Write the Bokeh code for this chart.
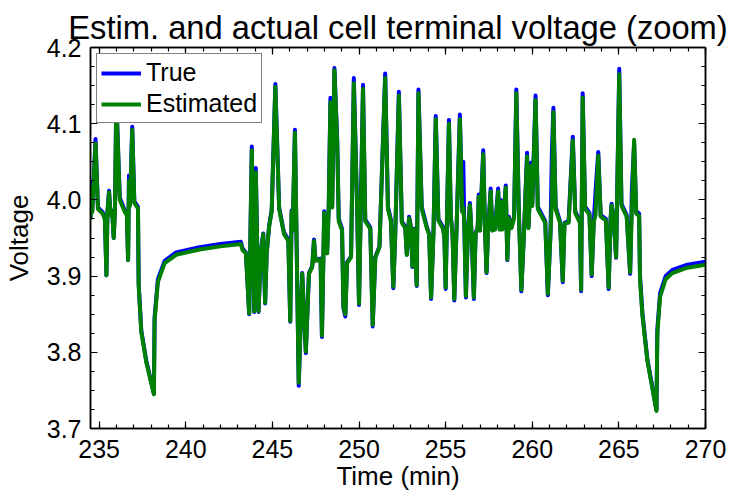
from bokeh.plotting import figure
from bokeh.models import LinearAxis, FixedTicker, Range1d
from bokeh.embed import file_html
from bokeh.resources import INLINE

# ---------------- data ----------------
time_min = [
    234.50, 234.53, 234.60, 234.79, 234.93, 235.20, 235.33, 235.42, 235.48, 235.57,
    235.66, 235.75, 235.84, 235.91, 235.99, 236.19, 236.48, 236.60, 236.67, 236.72,
    236.78, 236.91, 237.03, 237.24, 237.28, 237.43, 237.72, 238.16, 238.20, 238.39,
    238.78, 239.44, 240.79, 242.00, 243.18, 243.28, 243.47, 243.66, 243.81, 243.95,
    244.04, 244.20, 244.33, 244.47, 244.58, 244.67, 244.81, 244.96, 245.17, 245.39,
    245.67, 245.92, 246.03, 246.11, 246.17, 246.30, 246.52, 246.72, 246.93, 247.11,
    247.30, 247.40, 247.49, 247.78, 247.86, 247.99, 248.16, 248.25, 248.35, 248.45,
    248.58, 248.74, 248.83, 249.02, 249.10, 249.21, 249.31, 249.54, 249.70, 249.89,
    250.00, 250.23, 250.36, 250.65, 250.79, 250.94, 251.18, 251.51, 251.67, 251.84,
    251.98, 252.09, 252.30, 252.47, 252.67, 252.76, 252.89, 253.00, 253.08, 253.18,
    253.33, 253.43, 253.62, 253.91, 254.05, 254.16, 254.30, 254.43, 254.58, 254.85,
    254.93, 255.00, 255.08, 255.19, 255.30, 255.40, 255.50, 255.65, 255.82, 255.96,
    256.02, 256.07, 256.17, 256.28, 256.40, 256.50, 256.63, 256.73, 256.85, 256.91,
    256.98, 257.17, 257.27, 257.36, 257.45, 257.60, 257.70, 257.85, 258.03, 258.12,
    258.18, 258.28, 258.47, 258.56, 258.65, 258.80, 258.95, 259.08, 259.22, 259.37,
    259.52, 259.70, 259.78, 259.94, 260.00, 260.19, 260.32, 260.75, 260.90, 261.05,
    261.13, 261.22, 261.35, 261.60, 261.76, 261.86, 262.10, 262.34, 262.48, 262.75,
    262.82, 262.91, 263.05, 263.30, 263.43, 263.55, 263.65, 263.81, 263.95, 264.25,
    264.41, 264.52, 264.58, 264.70, 264.84, 265.02, 265.15, 265.45, 265.65, 265.75,
    265.88, 266.00, 266.17, 266.22, 266.36, 266.65, 267.17, 267.22, 267.38, 267.70,
    268.09, 268.95, 270.00,
]

v_true = [
    3.976, 4.023, 3.986, 4.080, 3.990, 3.984, 3.976, 3.901, 3.985, 4.012,
    3.981, 3.986, 3.950, 3.986, 4.135, 4.003, 3.986, 3.982, 3.921, 4.032,
    3.995, 4.096, 3.998, 3.991, 3.890, 3.829, 3.789, 3.746, 3.846, 3.896,
    3.920, 3.931, 3.938, 3.942, 3.945, 3.936, 3.931, 3.850, 4.070, 3.853,
    4.042, 3.853, 3.930, 3.956, 3.864, 3.930, 3.966, 3.987, 4.152, 3.990,
    3.957, 3.948, 3.840, 3.986, 3.960, 4.092, 3.756, 3.904, 3.799, 3.904,
    3.913, 3.948, 3.921, 3.923, 3.820, 3.985, 3.930, 3.990, 4.134, 3.992,
    4.173, 4.080, 3.975, 3.962, 3.858, 3.847, 3.918, 3.926, 4.160, 3.991,
    3.862, 4.151, 3.974, 3.964, 3.834, 3.925, 3.939, 4.166, 3.991, 3.974,
    3.884, 3.955, 4.142, 3.972, 3.965, 3.928, 3.978, 3.964, 3.912, 3.962,
    3.887, 4.145, 3.991, 3.965, 3.955, 3.870, 3.960, 4.110, 3.975, 3.964,
    3.950, 3.883, 3.980, 4.105, 3.978, 3.955, 3.868, 3.978, 4.112, 3.986,
    4.050, 3.975, 3.872, 3.955, 3.996, 3.955, 3.870, 3.956, 3.964, 4.007,
    3.960, 4.065, 3.964, 3.904, 3.960, 4.015, 3.960, 3.962, 4.015, 3.962,
    4.000, 3.962, 4.019, 3.921, 3.978, 3.964, 3.978, 4.145, 3.991, 3.880,
    3.956, 4.062, 3.964, 4.049, 3.995, 4.137, 3.991, 3.972, 3.875, 3.955,
    4.060, 4.121, 3.991, 3.972, 3.892, 3.970, 3.972, 4.083, 3.985, 3.972,
    3.880, 4.140, 3.991, 3.983, 3.900, 3.972, 4.010, 4.063, 3.980, 3.975,
    3.883, 3.975, 3.995, 3.975, 3.924, 4.172, 3.995, 3.980, 3.903, 4.013,
    4.075, 3.985, 3.982, 3.900, 3.851, 3.790, 3.724, 3.830, 3.878, 3.900,
    3.908, 3.915, 3.919,
]

v_est = [
    3.974, 4.015, 3.984, 4.074, 3.988, 3.982, 3.975, 3.901, 3.984, 4.010,
    3.980, 3.985, 3.950, 3.985, 4.130, 4.000, 3.984, 3.980, 3.921, 4.025,
    3.992, 4.092, 3.996, 3.989, 3.888, 3.827, 3.787, 3.745, 3.842, 3.892,
    3.917, 3.928, 3.935, 3.939, 3.942, 3.934, 3.930, 3.851, 4.065, 3.854,
    4.036, 3.854, 3.930, 3.955, 3.865, 3.930, 3.965, 3.985, 4.148, 3.988,
    3.955, 3.946, 3.841, 3.984, 3.960, 4.088, 3.760, 3.903, 3.801, 3.903,
    3.912, 3.946, 3.920, 3.922, 3.822, 3.983, 3.930, 3.988, 4.128, 3.990,
    4.170, 4.075, 3.972, 3.960, 3.860, 3.850, 3.917, 3.925, 4.153, 3.988,
    3.864, 4.146, 3.972, 3.962, 3.836, 3.924, 3.938, 4.160, 3.988, 3.972,
    3.886, 3.954, 4.137, 3.970, 3.963, 3.928, 3.976, 3.963, 3.913, 3.961,
    3.888, 4.140, 3.988, 3.963, 3.954, 3.872, 3.958, 4.106, 3.973, 3.962,
    3.950, 3.885, 3.978, 4.100, 3.976, 3.954, 3.870, 3.976, 4.106, 3.984,
    3.990, 3.974, 3.874, 3.954, 3.993, 3.954, 3.872, 3.955, 3.963, 4.004,
    3.960, 4.060, 3.963, 3.905, 3.960, 4.011, 3.960, 3.961, 4.011, 3.961,
    3.998, 3.961, 4.016, 3.922, 3.976, 3.963, 3.976, 4.140, 3.988, 3.882,
    3.955, 4.057, 3.963, 4.045, 3.992, 4.131, 3.988, 3.970, 3.877, 3.954,
    4.000, 4.115, 3.988, 3.970, 3.894, 3.969, 3.970, 4.078, 3.983, 3.970,
    3.882, 4.134, 3.988, 3.981, 3.902, 3.971, 3.980, 4.058, 3.978, 3.973,
    3.885, 3.974, 3.993, 3.974, 3.925, 4.165, 3.992, 3.978, 3.905, 3.990,
    4.079, 3.982, 3.979, 3.895, 3.848, 3.788, 3.723, 3.825, 3.873, 3.896,
    3.904, 3.911, 3.915,
]

x_ticks = [235, 240, 245, 250, 255, 260, 265, 270]
x_tick_labels = ["235", "240", "245", "250", "255", "260", "265", "270"]
x_minor_ticks = [235, 236, 237, 238, 239, 240, 241, 242, 243, 244, 245, 246, 247,
                 248, 249, 250, 251, 252, 253, 254, 255, 256, 257, 258, 259, 260,
                 261, 262, 263, 264, 265, 266, 267, 268, 269, 270]
y_ticks = [3.7, 3.8, 3.9, 4.0, 4.1, 4.2]
y_tick_labels = ["3.7", "3.8", "3.9", "4.0", "4.1", "4.2"]
y_minor_ticks = [3.7, 3.725, 3.75, 3.775, 3.8, 3.825, 3.85, 3.875, 3.9, 3.925,
                 3.95, 3.975, 4.0, 4.025, 4.05, 4.075, 4.1, 4.125, 4.15, 4.175, 4.2]

FONT = "Liberation Sans"

p = figure(
    width=742, height=493,
    x_range=Range1d(234.5, 270.0), y_range=Range1d(3.7, 4.2),
    output_backend="svg", toolbar_location=None,
    min_border_left=87, min_border_right=37, min_border_top=47, min_border_bottom=65,
    x_axis_label="Time (min)", y_axis_label="Voltage",
    title="Estim. and actual cell terminal voltage (zoom)",
)

p.title.text_font = FONT
p.title.text_font_size = "32.7px"
p.title.text_font_style = "normal"
p.title.align = "center"
p.title.text_color = "black"
p.title.standoff = 4
p.title.offset = 0

p.xgrid.visible = False
p.ygrid.visible = False
p.outline_line_color = "black"
p.outline_line_width = 1.5
p.background_fill_color = "white"
p.border_fill_color = "white"

xt = FixedTicker(ticks=x_ticks, minor_ticks=x_minor_ticks)
yt = FixedTicker(ticks=y_ticks, minor_ticks=y_minor_ticks)


def style_axis(ax):
    ax.axis_line_color = "black"
    ax.axis_line_width = 1.5
    ax.major_tick_in = 7
    ax.major_tick_out = 0
    ax.minor_tick_in = 4
    ax.minor_tick_out = 0
    ax.major_tick_line_color = "black"
    ax.minor_tick_line_color = "black"
    ax.major_tick_line_width = 1.2
    ax.minor_tick_line_width = 1.2
    ax.major_label_text_font = FONT
    ax.major_label_text_font_size = "25px"
    ax.major_label_text_color = "black"
    ax.axis_label_text_font = FONT
    ax.axis_label_text_font_size = "26px"
    ax.axis_label_text_font_style = "normal"
    ax.axis_label_text_color = "black"


p.xaxis.ticker = xt
p.yaxis.ticker = yt
p.xaxis.major_label_overrides = {t: s for t, s in zip(x_ticks, x_tick_labels)}
p.yaxis.major_label_overrides = {t: s for t, s in zip(y_ticks, y_tick_labels)}
for ax in p.xaxis + p.yaxis:
    style_axis(ax)
p.xaxis.major_label_standoff = 11
p.xaxis.axis_label_standoff = 0
p.yaxis.major_label_standoff = 9
p.yaxis.axis_label_standoff = 10

# box axes (top and right): ticks only, no labels
top_ax = LinearAxis(ticker=xt)
right_ax = LinearAxis(ticker=yt)
for ax, ticks in ((top_ax, x_ticks), (right_ax, y_ticks)):
    style_axis(ax)
    ax.major_label_overrides = {t: "" for t in ticks}
    ax.major_label_text_font_size = "2px"
    ax.major_label_standoff = 0
p.add_layout(top_ax, "above")
p.add_layout(right_ax, "right")

p.line(time_min, v_true, line_color="#0000FF", line_width=4, line_join="round",
       legend_label="True")
p.line(time_min, v_est, line_color="#008000", line_width=4, line_join="round",
       legend_label="Estimated")

lg = p.legend[0]
lg.location = "top_left"
lg.margin = 6
lg.padding = 4
lg.spacing = 2
lg.glyph_width = 40
lg.glyph_height = 28
lg.label_height = 28
lg.label_standoff = 5
lg.label_text_font = FONT
lg.label_text_font_size = "25px"
lg.label_text_color = "black"
lg.border_line_color = "black"
lg.border_line_width = 1.5
lg.background_fill_color = "white"
lg.background_fill_alpha = 1.0

open("out.html", "w").write(file_html(p, INLINE))
